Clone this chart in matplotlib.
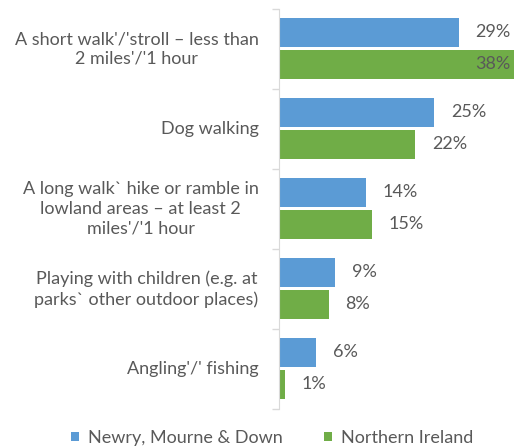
import matplotlib.pyplot as plt
import numpy as np

categories = ["A short walk'/'stroll \u2013 less than\n2 miles'/'1 hour",
              "Dog walking",
              "A long walk` hike or ramble in\nlowland areas \u2013 at least 2\nmiles'/'1 hour",
              "Playing with children (e.g. at\nparks` other outdoor places)",
              "Angling'/' fishing"]
newry = [29, 25, 14, 9, 6]
ni = [38, 22, 15, 8, 1]
series_names = ["Newry, Mourne & Down", "Northern Ireland"]

blue = "#5b9bd5"
green = "#70ad47"
txt = "#595959"

plt.rcParams['font.family'] = ['Lato', 'DejaVu Sans']
fs = 13

W, H = 514, 448
fig = plt.figure(figsize=(W / 100, H / 100), dpi=100)
# axes: left 279px, top 9px, bottom 409px, ~6.2 px per percent
ax = fig.add_axes([279 / W, 1 - 409 / H, 38 * 6.2 / W, 400 / H])

n = len(categories)
y = np.arange(n)
bh = 0.355
gap = 0.03
ax.barh(y - bh / 2 - gap, newry, height=bh, color=blue, label=series_names[0])
ax.barh(y + bh / 2 + gap / 2, ni, height=bh, color=green, label=series_names[1])

ax.set_ylim(n - 0.5, -0.5)
ax.set_xlim(0, 38)

for i in range(n):
    ax.text(newry[i] + 2.7, y[i] - bh / 2 - gap, f"{newry[i]}%", va='center',
            ha='left', fontsize=fs, color=txt)
    if ni[i] > 35:
        ax.text(ni[i] - 0.6, y[i] + bh / 2 + gap / 2, f"{ni[i]}%", va='center',
                ha='right', fontsize=fs, color=txt, clip_on=False)
    else:
        ax.text(ni[i] + 2.7, y[i] + bh / 2 + gap / 2, f"{ni[i]}%", va='center',
                ha='left', fontsize=fs, color=txt)

# category labels
for i in range(n):
    ax.text(-3.3, y[i], categories[i], ha='right', va='center',
            multialignment='center', fontsize=fs, color=txt, linespacing=1.3)

ax.set_yticks(np.arange(-0.5, n, 1.0))
ax.set_yticklabels([])
ax.tick_params(axis='y', length=5, color='#d9d9d9', width=1)
ax.set_xticks([])
for s in ['top', 'right', 'bottom']:
    ax.spines[s].set_visible(False)
ax.spines['left'].set_color('#d9d9d9')

leg = fig.legend(loc='center', bbox_to_anchor=(272 / W, 1 - 438 / H), ncol=2,
                 frameon=False, fontsize=fs, handlelength=0.45, handleheight=0.45,
                 handletextpad=0.5, columnspacing=2.3, borderpad=0)
for t in leg.get_texts():
    t.set_color(txt)

fig.savefig("out.png", dpi=100)
